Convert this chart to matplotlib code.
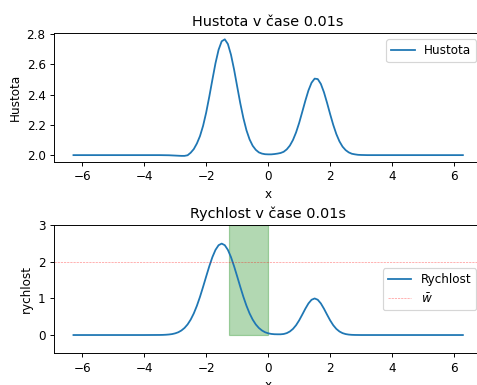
import numpy as np
import matplotlib
matplotlib.use("Agg")
import matplotlib.pyplot as plt

# -------------------------
# Data
# -------------------------
x_top = [-6.283, -4.0, -3.5, -3.2, -3.0, -2.9, -2.8, -2.7, -2.6, -2.5, -2.4, -2.3, -2.2, -2.1,
         -2.0, -1.9, -1.8, -1.7, -1.6, -1.5, -1.4, -1.3, -1.2, -1.1, -1.0, -0.9,
         -0.8, -0.7, -0.6, -0.5, -0.4, -0.3, -0.2, -0.1, 0.0, 0.1, 0.2, 0.3, 0.4,
         0.5, 0.6, 0.7, 0.8, 0.9, 1.0, 1.1, 1.2, 1.3, 1.4, 1.5, 1.6, 1.7, 1.8,
         1.9, 2.0, 2.1, 2.2, 2.3, 2.4, 2.5, 2.6, 2.7, 2.8, 2.9, 3.0, 3.2, 4.0, 6.283]
hustota = [2.0, 2.0, 2.0, 1.999, 1.997, 1.996, 1.995, 1.995, 1.999, 2.016, 2.040, 2.077, 2.126, 2.194,
           2.282, 2.387, 2.499, 2.608, 2.697, 2.753, 2.766, 2.735, 2.664, 2.566, 2.454, 2.343,
           2.245, 2.164, 2.104, 2.062, 2.035, 2.018, 2.010, 2.006, 2.005, 2.005, 2.007, 2.010, 2.014,
           2.022, 2.038, 2.063, 2.100, 2.150, 2.213, 2.286, 2.360, 2.428, 2.479, 2.506, 2.503, 2.471, 2.416,
           2.346, 2.271, 2.200, 2.139, 2.091, 2.056, 2.033, 2.018, 2.009, 2.005, 2.002, 2.001, 2.0, 2.0, 2.0]

x_bot = [-6.283, -4.0, -3.5, -3.4, -3.3, -3.2, -3.1, -3.0, -2.9, -2.8, -2.7, -2.6, -2.5, -2.4,
         -2.3, -2.2, -2.1, -2.0, -1.9, -1.8, -1.7, -1.6, -1.5, -1.4, -1.3, -1.2, -1.1,
         -1.0, -0.9, -0.8, -0.7, -0.6, -0.5, -0.4, -0.3, -0.2, -0.1, 0.0, 0.1, 0.2,
         0.3, 0.4, 0.5, 0.6, 0.7, 0.8, 0.9, 1.0, 1.1, 1.2, 1.3, 1.4, 1.5, 1.6, 1.7,
         1.8, 1.9, 2.0, 2.1, 2.2, 2.3, 2.4, 2.5, 2.6, 2.7, 2.8, 2.9, 3.0, 4.0, 6.283]
rychlost = [0.0, 0.0, 0.002, 0.004, 0.008, 0.015, 0.026, 0.046, 0.076, 0.124, 0.193, 0.290, 0.422, 0.591,
            0.800, 1.045, 1.318, 1.602, 1.880, 2.130, 2.328, 2.456, 2.500, 2.456, 2.328, 2.130, 1.880,
            1.602, 1.318, 1.045, 0.800, 0.591, 0.422, 0.290, 0.193, 0.124, 0.076, 0.047, 0.030, 0.022,
            0.020, 0.020, 0.028, 0.052, 0.097, 0.167, 0.268, 0.401, 0.558, 0.720, 0.864, 0.964, 1.000, 0.964, 0.864,
            0.720, 0.558, 0.401, 0.268, 0.167, 0.097, 0.052, 0.026, 0.012, 0.005, 0.002, 0.001, 0.0, 0.0, 0.0]

w_bar = 2.0
span_x = [-1.25, 0.0]
span_top = 3.0

DPI = 86
fig = plt.figure(figsize=(477 / DPI, 385 / DPI), dpi=DPI)

# Hustota
ax1 = fig.add_axes([0.1132, 0.580, 0.898, 0.333])
ax1.plot(x_top, hustota, label="Hustota")
ax1.set_title("Hustota v čase 0.01s")
ax1.set_xlabel("x")
ax1.set_ylabel("Hustota")
ax1.set_xticks([-6, -4, -2, 0, 2, 4, 6])
ax1.set_yticks([2.0, 2.2, 2.4, 2.6, 2.8])
ax1.legend(loc="upper right")

# Rychlost
ax2 = fig.add_axes([0.1132, 0.0823, 0.898, 0.3325])
ax2.plot(x_bot, rychlost, label="Rychlost")
ax2.axhline(w_bar, color="r", linestyle="--", linewidth=0.5, alpha=0.5, label=r"$\bar{w}$")
ax2.fill_between(span_x, 0, span_top, color="green", alpha=0.3)
ax2.set_ylim(-0.5, 3)
ax2.set_yticks([0, 1, 2, 3])
ax2.set_xticks([-6, -4, -2, 0, 2, 4, 6])
ax2.set_title("Rychlost v čase 0.01s")
ax2.set_xlabel("x")
ax2.set_ylabel("rychlost")
ax2.legend(loc="center right")

fig.savefig("out.png", dpi=DPI)
